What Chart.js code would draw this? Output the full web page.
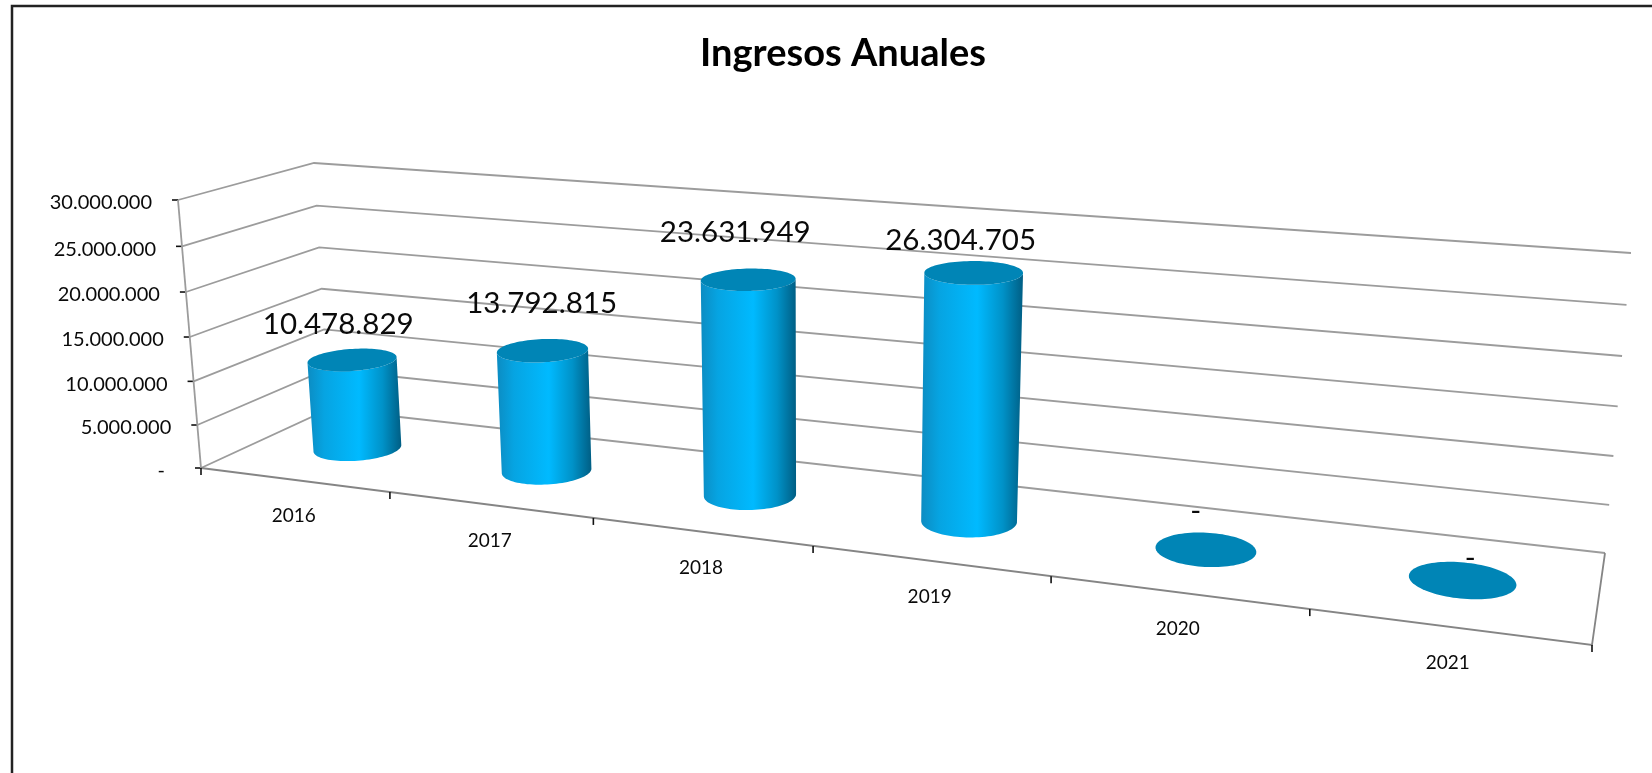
<!DOCTYPE html>
<html><head><meta charset="utf-8">
<style>html,body{margin:0;padding:0;background:#fff}canvas{display:block}</style>
<script src="https://cdn.jsdelivr.net/npm/chart.js@4/dist/chart.umd.min.js"></script>
</head><body>
<div style="width:1652px;height:773px"><canvas id="c" width="1652" height="773"></canvas></div>
<script>
const years = ['2016','2017','2018','2019','2020','2021'];
const ingresos = [10478829,13792815,23631949,26304705,0,0];
const yMin = 0, yMax = 30000000, yStep = 5000000;
const titleText = 'Ingresos Anuales';

// Camera of the 3D box: corners of the floor and of the ceiling [front-left, front-right, rear-right, rear-left]
const floorQuad = [[201,468],[1592,645],[1605,553],[329,409]];
const ceilQuad  = [[178,200],[1620,323],[1631,253],[314,163]];
const depthRadius = 0.2, depthCentre = 0.5, heightCurve = 0.045;
// Hand-placed data-label offsets from the top of each cylinder, as in the original
const labelOffsets = [[-14,-35],[-1,-47],[-13,-47],[-13,-32],[-10,-38],[8,-22]];
const yLabelGap = 26, FONT = 'Lato';

function homography(q){
  const [[x0,y0],[x1,y1],[x2,y2],[x3,y3]] = q;
  const dx1=x1-x2,dx2=x3-x2,sx=x0-x1+x2-x3,dy1=y1-y2,dy2=y3-y2,sy=y0-y1+y2-y3;
  const det=dx1*dy2-dx2*dy1, g=(sx*dy2-dx2*sy)/det, h=(dx1*sy-sx*dy1)/det;
  const a=x1-x0+g*x1,b=x3-x0+h*x3,d=y1-y0+g*y1,e=y3-y0+h*y3;
  return (u,v)=>{const w=g*u+h*v+1;return [(a*u+b*v+x0)/w,(d*u+e*v+y0)/w];};
}
const floorH = homography(floorQuad);
const lift = floorQuad.map((f,i)=>[ceilQuad[i][0]-f[0],ceilQuad[i][1]-f[1]]);
function project(u,v,t){
  const f=floorH(u,v);
  // screen-space fractions of the floor point, so the height vector follows the floor's perspective
  const a=floorH(0,v), b=floorH(1,v), s=(f[0]-a[0])/(b[0]-a[0]);
  const n=floorH(u,0), m=floorH(u,1), r=(f[1]-n[1])/(m[1]-n[1]);
  const mix=k=>(lift[0][k]*(1-s)+lift[1][k]*s)*(1-r)+(lift[3][k]*(1-s)+lift[2][k]*s)*r;
  const tp=t-heightCurve*t*(1-t);
  return [f[0]+mix(0)*tp, f[1]+mix(1)*tp];
}
function fmt(v){ return v===0 ? '-' : new Intl.NumberFormat('de-DE').format(v); }

function line(ctx,pts,color,w){
  ctx.beginPath(); pts.forEach((p,i)=>i?ctx.lineTo(p[0],p[1]):ctx.moveTo(p[0],p[1]));
  ctx.strokeStyle=color; ctx.lineWidth=w; ctx.stroke();
}
function ring(uc,ru,t){
  const out=[]; for(let i=0;i<96;i++){const a=i/96*Math.PI*2;
    out.push(project(uc+ru*Math.cos(a),depthCentre+depthRadius*Math.sin(a),t));}
  return out;
}
function fillPts(ctx,pts,style){
  ctx.beginPath(); pts.forEach((p,i)=>i?ctx.lineTo(p[0],p[1]):ctx.moveTo(p[0],p[1])); ctx.closePath();
  ctx.fillStyle=style; ctx.fill();
}
const box3d = {
  id:'box3d',
  beforeDraw(chart){
    const ctx=chart.ctx, W=chart.width;
    ctx.save();
    line(ctx,[[12,chart.height],[12,6],[W,6]],'#222',2.5);
    ctx.restore();
  },
  beforeDatasetsDraw(chart){
    const ctx=chart.ctx,{x:xs,y:ys}=chart.scales;
    const hOf=v=>(ys.bottom-ys.getPixelForValue(v))/(ys.bottom-ys.top);
    const uOfPx=p=>(p-xs.left)/(xs.right-xs.left);
    ctx.save();
    const grid='#9c9c9c';
    ys.ticks.forEach(t=>{
      const h=hOf(t.value);
      line(ctx,[project(0,0,h),project(0,1,h),project(1,1,h)],grid,1.8);
      const p=project(0,0,h);
      line(ctx,[[p[0]-6,p[1]],[p[0],p[1]]],'#111',1.6);
      ctx.font='20px '+FONT; ctx.fillStyle='#0a0a0a'; ctx.textBaseline='middle';
      ctx.textAlign='right';
      const lx = t.value===0 ? p[0]-36 : p[0]-yLabelGap;
      ctx.fillText(t.label,lx,p[1]+3);
    });
    line(ctx,[project(0,0,0),project(0,0,1)],grid,1.8);
    line(ctx,[project(0,0,0),project(1,0,0),project(1,1,0)],'#858585',1.8);
    const n=years.length;
    for(let i=0;i<=n;i++){
      const p=project(i/n,0,0);
      line(ctx,[[p[0],p[1]],[p[0],p[1]+7]],'#111',1.6);
    }
    xs.ticks.forEach((t,i)=>{
      const p=project(uOfPx(xs.getPixelForTick(i)),0,0);
      ctx.font='19px '+FONT; ctx.fillStyle='#0a0a0a'; ctx.textAlign='center'; ctx.textBaseline='middle';
      ctx.fillText(t.label,p[0],p[1]+36.5);
    });
    const meta=chart.getDatasetMeta(0), vals=chart.data.datasets[0].data;
    meta.data.forEach((el,i)=>{
      const uc=uOfPx(el.x), ru=el.width/2/(xs.right-xs.left), t=hOf(vals[i]);
      const top=ring(uc,ru,t), bot=ring(uc,ru,0);
      if(vals[i]>0){
        const ext=a=>{let l=0,r=0;a.forEach((p,k)=>{if(p[0]<a[l][0])l=k;if(p[0]>a[r][0])r=k;});return [l,r];};
        const [bl,br]=ext(bot),[tl,tr]=ext(top), body=[];
        for(let k=bl;;k=(k+1)%96){body.push(bot[k]);if(k===br)break;}
        for(let k=tr;;k=(k+95)%96){body.push(top[k]);if(k===tl)break;}
        const x0=Math.min(bot[bl][0],top[tl][0]),x1=Math.max(bot[br][0],top[tr][0]);
        const g=ctx.createLinearGradient(x0,0,x1,0);
        g.addColorStop(0,'#0C8CC2');g.addColorStop(0.18,'#06A4E2');g.addColorStop(0.55,'#00BAFF');
        g.addColorStop(0.8,'#0092C8');g.addColorStop(1,'#005E84');
        fillPts(ctx,body,g);
      }
      fillPts(ctx,top,'#0085B6');
    });
    meta.data.forEach((el,i)=>{
      const c=project(uOfPx(el.x),depthCentre,hOf(vals[i])), o=labelOffsets[i];
      ctx.font='29.5px '+FONT; ctx.fillStyle='#0a0a0a'; ctx.textAlign='center'; ctx.textBaseline='middle';
      ctx.fillText(fmt(vals[i]),c[0]+o[0],c[1]+o[1]);
    });
    ctx.restore();
    return false;
  }
};
new Chart(document.getElementById('c'),{
  type:'bar',
  data:{labels:years,datasets:[{label:titleText,data:ingresos,backgroundColor:'#00BAFF',barPercentage:0.4,categoryPercentage:1}]},
  plugins:[box3d],
  options:{
    responsive:false,animation:false,
    layout:{padding:{left:34,right:0,top:0,bottom:0}},
    plugins:{legend:{display:false},tooltip:{enabled:false},
      title:{display:true,text:titleText,color:'#000',font:{family:FONT,size:38,weight:'bold'},padding:{top:31,bottom:10}}},
    scales:{
      x:{display:false,offset:true,ticks:{autoSkip:false,maxRotation:0}},
      y:{display:false,min:yMin,max:yMax,ticks:{stepSize:yStep,callback:fmt}}
    }
  }
});
</script></body></html>
